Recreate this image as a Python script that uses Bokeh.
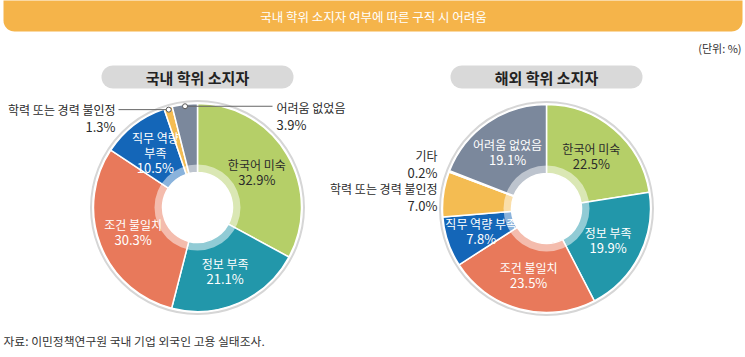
import math
from bokeh.plotting import figure
from bokeh.models import Range1d, ColumnDataSource
from bokeh.embed import file_html
from bokeh.resources import INLINE
from bokeh.core.properties import value

# ---------------- data ----------------
title_text = "국내 학위 소지자 여부에 따른 구직 시 어려움"
unit_text = "(단위: %)"
source_text = "자료: 이민정책연구원 국내 기업 외국인 고용 실태조사."
group_titles = ["국내 학위 소지자", "해외 학위 소지자"]

categories = ["한국어 미숙", "정보 부족", "조건 불일치", "직무 역량 부족",
              "학력 또는 경력 불인정", "기타", "어려움 없었음"]
domestic_values = [32.9, 21.1, 30.3, 10.5, 1.3, 0.0, 3.9]
overseas_values = [22.5, 19.9, 23.5, 7.8, 7.0, 0.2, 19.1]

colors = ["#B5CF68", "#2297AA", "#E8795B", "#1466B8", "#F4BC52", "#D0D0D0", "#7B889C"]
label_colors = ["#2b2b2b", "white", "white", "white", "white", "white", "white"]

# label line splits per chart (inner labels)
domestic_inner = {0: ["한국어 미숙"], 1: ["정보 부족"], 2: ["조건 불일치"], 3: ["직무 역량", "부족"]}
overseas_inner = {0: ["한국어 미숙"], 1: ["정보 부족"], 2: ["조건 불일치"], 3: ["직무 역량 부족"], 6: ["어려움 없었음"]}

FONT = value("Noto Sans CJK KR")

# ---------------- layout (reference pixel coords) ----------------
W, H = 745, 357
def Y(y):
    return H - y

p = figure(width=W, height=H, output_backend="svg", toolbar_location=None,
           x_range=Range1d(0, W), y_range=Range1d(0, H), min_border=0)
p.axis.visible = False
p.grid.visible = False
p.outline_line_color = None
p.background_fill_color = "white"
p.border_fill_color = "white"

def rounded_rect(x0, y0, x1, y1, r, top=True, bottom=True):
    # ref coords: y0 top, y1 bottom
    pts = []
    def arc(cx, cy, a0, a1, n=10):
        for i in range(n + 1):
            a = math.radians(a0 + (a1 - a0) * i / n)
            pts.append((cx + r * math.cos(a), cy - r * math.sin(a)))
    if top:
        arc(x1 - r, y0 + r, 90, 0)
    else:
        pts.append((x1, y0))
    if bottom:
        arc(x1 - r, y1 - r, 0, -90)
        arc(x0 + r, y1 - r, -90, -180)
    else:
        pts.append((x1, y1)); pts.append((x0, y1))
    if top:
        arc(x0 + r, y0 + r, 180, 90)
    else:
        pts.append((x0, y0))
    xs = [q[0] for q in pts]
    ys = [Y(q[1]) for q in pts]
    return xs, ys

# title bar
xs, ys = rounded_rect(3, -12, 742, 31, 11)
p.patch(xs, ys, fill_color="#F5B44A", line_color=None)
p.text(x=[373], y=[Y(16)], text=[title_text], text_align="center", text_baseline="middle",
       text_font=FONT, text_font_size="12.5px", text_color="white")

# unit
p.text(x=[741], y=[Y(47)], text=[unit_text], text_align="right", text_baseline="middle",
       text_font=FONT, text_font_size="11px", text_color="#333333")

# source
p.text(x=[3], y=[Y(340)], text=[source_text], text_align="left", text_baseline="middle",
       text_font=FONT, text_font_size="11.8px", text_color="#333333")

centers = [(197, 207), (546, 208)]
R_OUT, R_IN, R_BAND = 104, 35, 43
LABEL_R = 69

def draw_donut(cx, cy, vals, inner_map, gtitle):
    # pill title
    xs, ys = rounded_rect(cx - 96, 65, cx + 96, 88, 11.5)
    p.patch(xs, ys, fill_color="#D9D9D9", line_color=None)
    p.text(x=[cx], y=[Y(76.5)], text=[gtitle], text_align="center", text_baseline="middle",
           text_font=FONT, text_font_size="15px", text_font_style="bold", text_color="#222222")

    # outer faint ring
    p.circle(x=[cx], y=[Y(cy)], radius=R_OUT + 2.5, fill_color=None, line_color="#D6D6D6", line_width=2)

    starts, ends, cols, mids = [], [], [], []
    cum = 0.0
    for v, c in zip(vals, colors):
        s = math.pi / 2 - 2 * math.pi * cum / 100
        e = math.pi / 2 - 2 * math.pi * (cum + v) / 100
        starts.append(s); ends.append(e); cols.append(c); mids.append((s + e) / 2)
        cum += v
    keep = [i for i, v in enumerate(vals) if v > 0]
    src = ColumnDataSource(dict(start=[starts[i] for i in keep], end=[ends[i] for i in keep],
                                color=[cols[i] for i in keep]))
    p.annular_wedge(x=cx, y=Y(cy), inner_radius=R_IN, outer_radius=R_OUT,
                    start_angle="start", end_angle="end", direction="clock",
                    fill_color="color", line_color="white", line_width=1.5, source=src)
    p.annulus(x=[cx], y=[Y(cy)], inner_radius=R_IN, outer_radius=R_BAND,
              fill_color="white", fill_alpha=0.5, line_color=None)

    # inner labels
    for i, lines in inner_map.items():
        a = mids[i]
        lx = cx + LABEL_R * math.cos(a)
        ly = cy - LABEL_R * math.sin(a)
        all_lines = lines + [f"{vals[i]:.1f}%"]
        n = len(all_lines)
        for k, t in enumerate(all_lines):
            yy = ly + (k - (n - 1) / 2) * 15
            is_pct = (k == n - 1)
            p.text(x=[lx], y=[Y(yy)], text=[t], text_align="center", text_baseline="middle",
                   text_font=FONT, text_font_size="13px" if is_pct else "12px",
                   text_color=label_colors[i])
    return mids

def ext_label(x, y, lines, align):
    for k, t in enumerate(lines):
        p.text(x=[x], y=[Y(y + k * 16.5)], text=[t], text_align=align, text_baseline="middle",
               text_font=FONT, text_font_size="13px" if k == len(lines) - 1 else "12px",
               text_color="#2b2b2b")

# domestic
cx, cy = centers[0]
mids = draw_donut(cx, cy, domestic_values, domestic_inner, group_titles[0])
DOT_R = 102
for i, side in [(4, "left"), (6, "right")]:
    a = mids[i]
    dx = cx + DOT_R * math.cos(a)
    dy = cy - DOT_R * math.sin(a)
    lines = [categories[i], f"{domestic_values[i]:.1f}%"]
    if side == "left":
        tx = 115
        p.line([dx, tx + 3], [Y(dy), Y(dy)], line_color="#666666", line_width=1)
        ext_label(tx, dy, lines, "right")
    else:
        tx = 276
        p.line([dx, tx - 4], [Y(dy), Y(dy)], line_color="#666666", line_width=1)
        ext_label(tx, dy + 1.5, lines, "left")
    p.scatter([dx], [Y(dy)], size=5, marker="circle", fill_color="white", line_color="#555555", line_width=1)

# overseas
cx, cy = centers[1]
mids = draw_donut(cx, cy, overseas_values, overseas_inner, group_titles[1])
ext_label(437, 155, [categories[5], f"{overseas_values[5]:.1f}%"], "right")
ext_label(437, 188, [categories[4], f"{overseas_values[4]:.1f}%"], "right")

open("out.html", "w").write(file_html(p, INLINE))
